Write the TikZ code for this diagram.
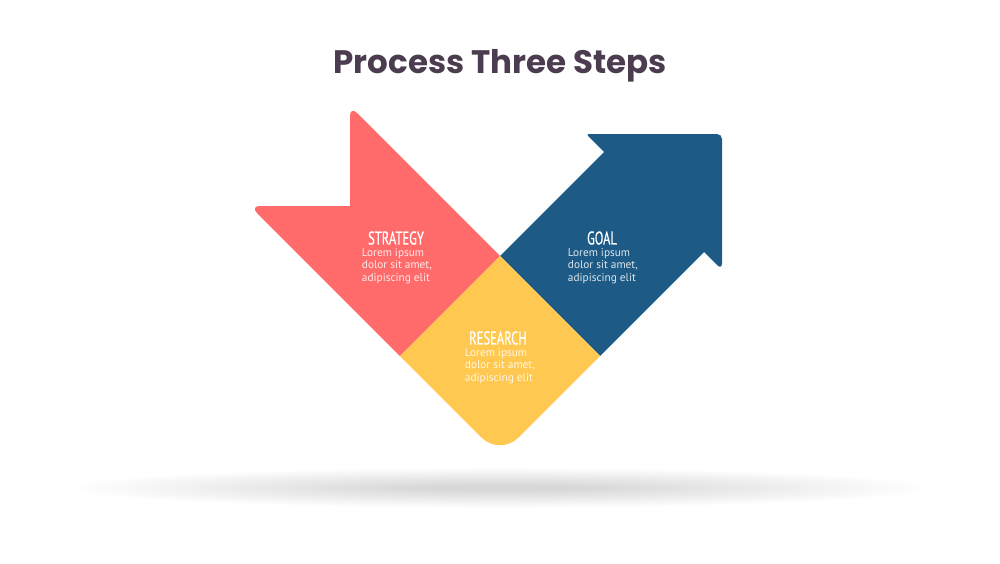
\documentclass[tikz,border=0pt]{standalone}
\usepackage{fontspec}
\setmainfont{PT Sans}
\newfontfamily\titlefont{Poppins}
\newfontfamily\headfont[FakeStretch=0.68,FakeBold=0.6]{PT Sans}
\usetikzlibrary{calc}
\definecolor{cred}{HTML}{FF6B6B}
\definecolor{cyellow}{HTML}{FFC850}
\definecolor{cblue}{HTML}{1D5B86}
\definecolor{ctitle}{HTML}{4B3D4F}
\tikzset{
  titlestyle/.style={font=\titlefont\bfseries\fontsize{32.5}{38}\selectfont, text=ctitle, inner sep=0pt},
  headstyle/.style={font=\headfont\fontsize{18.5}{21}\selectfont, text=white, inner sep=0pt},
  bodystyle/.style={font=\fontsize{11.3}{12.3}\selectfont, text=white, text opacity=0.85, align=left, inner sep=0pt},
}
\begin{document}
\begin{tikzpicture}[x=1pt,y=-1pt]
\useasboundingbox (0,0) rectangle (1000,563);
\fill[white] (0,0) rectangle (1000,563);
% shadow
\foreach \i in {0,...,39}{
  \fill[black, opacity=0.0042] (500,488) ellipse [x radius={430-9*\i}, y radius={20-0.45*\i}];
}
% key points
\coordinate (T) at (500,256);
\coordinate (L) at (400,356);
\coordinate (R) at (600,356);
\coordinate (B) at (500,456);
\coordinate (LT) at (250,206);
\coordinate (N) at (350,206);
\coordinate (TT) at (350,106);
\coordinate (S1) at (604,152);
\coordinate (BA) at (586,134);
\coordinate (C) at (722,134);
\coordinate (BB) at (722,270);
\coordinate (S2) at (704,252);
% red ribbon
\fill[cred] (T) -- (L) -- ($(LT)!10pt!(L)$)
  .. controls ($(LT)!4.5pt!(L)$) and ($(LT)!4.5pt!(N)$) .. ($(LT)!10pt!(N)$) -- (N)
  -- ($(TT)!10pt!(N)$)
  .. controls ($(TT)!4.5pt!(N)$) and ($(TT)!4.5pt!(T)$) .. ($(TT)!10pt!(T)$) -- cycle;
% blue arrow
\fill[cblue] (T) -- (S1) -- ($(BA)!3pt!(S1)$)
  .. controls ($(BA)!1.3pt!(S1)$) and ($(BA)!1.3pt!(C)$) .. ($(BA)!3pt!(C)$)
  -- ($(C)!5pt!(BA)$)
  .. controls ($(C)!2.2pt!(BA)$) and ($(C)!2.2pt!(BB)$) .. ($(C)!5pt!(BB)$)
  -- ($(BB)!7pt!(C)$)
  .. controls ($(BB)!3pt!(C)$) and ($(BB)!3pt!(S2)$) .. ($(BB)!7pt!(S2)$)
  -- (S2) -- (R) -- cycle;
% yellow square
\fill[cyellow] (T) -- (R) -- ($(B)!26pt!(R)$)
  .. controls ($(B)!11.6pt!(R)$) and ($(B)!11.6pt!(L)$) .. ($(B)!26pt!(L)$) -- (L) -- cycle;
% texts
\node[titlestyle] (title) at (500,66) {Process Three Steps};
\node[headstyle] (h1) at (396,238) {STRATEGY};
\node[bodystyle] (b1) at (397,266) {Lorem ipsum\\dolor sit amet,\\adipiscing elit};
\node[headstyle] (h2) at (602,238) {GOAL};
\node[bodystyle] (b2) at (603,266) {Lorem ipsum\\dolor sit amet,\\adipiscing elit};
\node[headstyle] (h3) at (498,338) {RESEARCH};
\node[bodystyle] (b3) at (500,366) {Lorem ipsum\\dolor sit amet,\\adipiscing elit};
\end{tikzpicture}
\end{document}
